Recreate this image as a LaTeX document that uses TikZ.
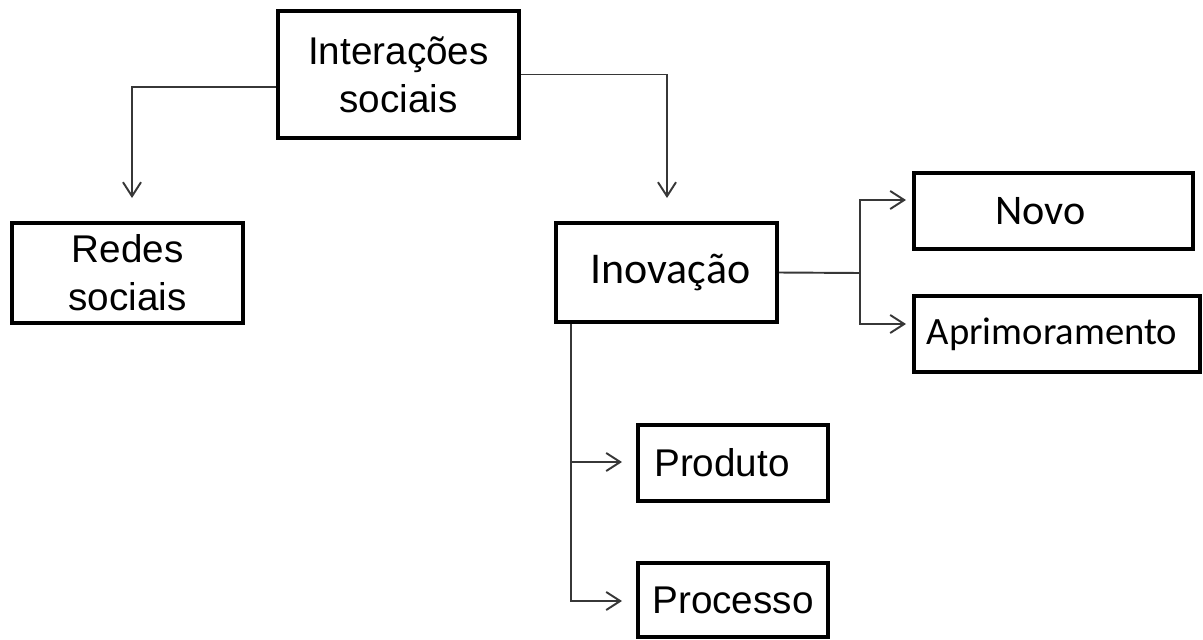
\documentclass[tikz,border=0pt]{standalone}
\usepackage{fontspec}
\setmainfont{Liberation Sans}
\newfontfamily\calfont{Carlito}
\usetikzlibrary{arrows.meta,positioning}
\definecolor{linegray}{RGB}{55,55,55}
\newcommand{\bigtxt}{\fontsize{22pt}{27.3pt}\selectfont}
\tikzset{box/.style={draw=black,line width=2.2pt,inner sep=2pt,align=center,font=\bigtxt},
  calbox/.style={box,font=\calfont\bigtxt},
  link/.style={linegray,line width=1.1pt},
  flow/.style={link,-{Straight Barb[length=2.8mm,width=3.6mm,line width=1.1pt]}}}

\begin{document}
\begin{tikzpicture}[x=1cm,y=1cm]
\useasboundingbox (0,0) rectangle (24.06,-12.78);
\node[box,minimum width=4.82cm,minimum height=2.54cm] (inter) at (7.97,-1.49) {Interações\\sociais};
\node[box,minimum width=4.62cm,minimum height=2.00cm] (redes) at (2.55,-5.46) {Redes\\sociais};
\node[calbox,minimum width=4.42cm,minimum height=1.98cm,font=\calfont\fontsize{25pt}{30pt}\selectfont] (inov) at (13.33,-5.45) {\hspace*{0.16cm}Inovação};
\node[calbox,minimum width=5.58cm,minimum height=1.52cm,font=\calfont\fontsize{24pt}{29pt}\selectfont] (novo) at (21.07,-4.22) {Novo\hspace*{0.52cm}};
\node[calbox,minimum width=5.72cm,minimum height=1.52cm] (aprim) at (21.14,-6.68) {Aprimoramento\hspace*{0.2cm}};
\node[box,minimum width=3.80cm,minimum height=1.52cm] (prod) at (14.66,-9.26) {Produto\hspace*{0.44cm}};
\node[box,minimum width=3.80cm,minimum height=1.48cm] (proc) at (14.66,-12.00) {Processo};
% arrow ends and the branch point
\coordinate (redesin) at (2.64,-3.96);
\coordinate (inovin) at (13.34,-3.96);
\coordinate (jct) at (17.20,-5.46);
\coordinate (novoin) at (18.12,-4.00);
\coordinate (aprimin) at (18.12,-6.48);
\coordinate (prodin) at (12.44,-9.24);
\coordinate (procin) at (12.44,-12.02);
\draw[flow] ([yshift=-2.5mm]inter.west) -| (redesin);
\draw[flow] (inter.east) -| (inovin);
\draw[link] (inov.east) -- (jct);
\draw[flow] (jct) |- (novoin); \draw[flow] (jct) |- (aprimin);
\draw[flow] ([xshift=3.4mm]inov.south west) |- (prodin);
\draw[flow] ([xshift=3.4mm]inov.south west) |- (procin);
\end{tikzpicture}
\end{document}
